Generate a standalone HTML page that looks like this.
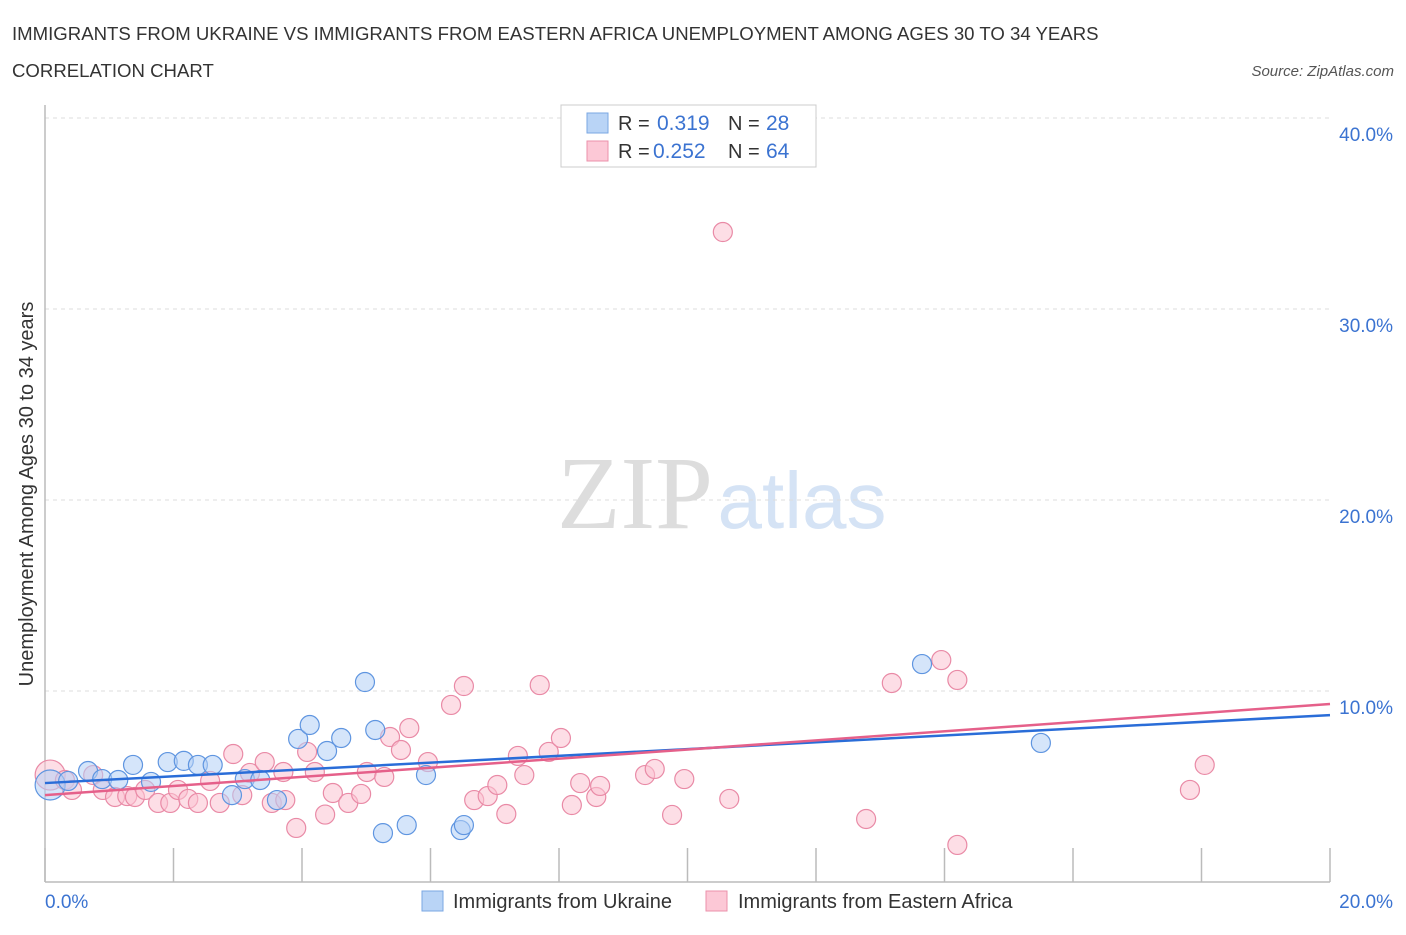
<!DOCTYPE html>
<html><head><meta charset="utf-8">
<style>
body{margin:0;background:#fff;font-family:"Liberation Sans",sans-serif;}
svg text{font-family:"Liberation Sans",sans-serif;}
</style></head>
<body>
<svg id="chart" width="1406" height="930" xmlns="http://www.w3.org/2000/svg">
<text x="12" y="40" font-size="18.6" fill="#333">IMMIGRANTS FROM UKRAINE VS IMMIGRANTS FROM EASTERN AFRICA UNEMPLOYMENT AMONG AGES 30 TO 34 YEARS</text>
<text x="12" y="77" font-size="18.6" fill="#333">CORRELATION CHART</text>
<text x="1394" y="76" font-size="15" fill="#555" font-style="italic" text-anchor="end">Source: ZipAtlas.com</text>
<text transform="translate(33,494) rotate(-90)" font-size="20" fill="#333" text-anchor="middle">Unemployment Among Ages 30 to 34 years</text>
<text x="635" y="528" font-size="104" fill="#ddd" text-anchor="middle" style="font-family:'Liberation Serif',serif">ZIP</text>
<text x="802" y="528" font-size="80" fill="#d5e3f5" text-anchor="middle">atlas</text>
<g id="grid"></g>
<g id="marks"></g>
<g id="lines"></g>
<g>
<rect x="561" y="105" width="255" height="62" fill="#fff" stroke="#ccc"/>
<rect x="587" y="113" width="21" height="20" fill="#b9d4f6" stroke="#7aa7e3"/>
<text x="618" y="130" font-size="20" fill="#333">R = </text><text x="657" y="130" font-size="21" fill="#3b73d1">0.319</text>
<text x="728" y="130" font-size="20" fill="#333">N = </text><text x="766" y="130" font-size="21" fill="#3b73d1">28</text>
<rect x="587" y="141" width="21" height="20" fill="#fcc8d6" stroke="#eb91ab"/>
<text x="618" y="158" font-size="20" fill="#333">R = </text><text x="653" y="158" font-size="21" fill="#3b73d1">0.252</text>
<text x="728" y="158" font-size="20" fill="#333">N = </text><text x="766" y="158" font-size="21" fill="#3b73d1">64</text>
</g>
<g>
<rect x="422" y="891" width="21" height="20" fill="#b9d4f6" stroke="#7aa7e3"/>
<text x="453" y="908" font-size="20" fill="#333">Immigrants from Ukraine</text>
<rect x="706" y="891" width="21" height="20" fill="#fcc8d6" stroke="#eb91ab"/>
<text x="738" y="908" font-size="20" fill="#333">Immigrants from Eastern Africa</text>
</g>
</svg>
<script>
const yTicks=[10,20,30,40];
const yTickLabels=["10.0%","20.0%","30.0%","40.0%"];
const xTickLabels=["0.0%","20.0%"];
const ukraineX=[0.08,0.36,0.67,0.89,1.14,1.37,1.65,1.91,2.16,2.38,2.61,2.91,3.11,3.35,3.61,3.94,4.12,4.39,4.61,4.98,5.14,5.26,5.63,5.93,6.47,6.52,13.65,15.5];
const ukraineY=[5.08,5.29,5.81,5.39,5.34,6.13,5.24,6.28,6.34,6.13,6.13,4.55,5.39,5.34,4.29,7.49,8.22,6.86,7.54,10.47,7.96,2.56,2.98,5.6,2.72,2.98,11.41,7.28];
const africaX=[0.08,0.31,0.42,0.75,0.9,1.09,1.28,1.4,1.56,1.76,1.95,2.07,2.23,2.38,2.57,2.72,2.93,3.07,3.19,3.42,3.53,3.74,3.91,4.08,4.2,4.36,4.48,4.72,4.92,5.01,5.28,5.37,5.54,5.67,5.96,6.32,6.52,6.68,6.89,7.04,7.18,7.36,7.46,7.7,7.84,8.03,8.2,8.33,8.58,8.64,9.34,9.49,9.76,9.95,10.55,10.65,12.78,13.18,13.95,14.2,14.2,17.82,18.05,3.71];
const africaY=[5.6,5.34,4.82,5.6,4.82,4.45,4.5,4.45,4.82,4.14,4.14,4.82,4.35,4.14,5.29,4.14,6.7,4.55,5.71,6.28,4.14,4.29,2.83,6.81,5.76,3.53,4.66,4.14,4.61,5.76,5.5,7.59,6.91,8.06,6.28,9.27,10.26,4.29,4.5,5.08,3.56,6.6,5.6,10.31,6.81,7.54,4.03,5.18,4.45,5.03,5.6,5.92,3.51,5.39,34.03,4.35,3.3,10.42,11.62,10.58,1.94,4.82,6.13,5.76];
const ukraineTrend=[5.18,8.74];
const africaTrend=[4.55,9.32];
const NS="http://www.w3.org/2000/svg";
const X0=45,X1=1330,Y0=882,PPU=19.1;
function sx(v){return X0+(v/20)*(X1-X0);}
function sy(v){return Y0-v*PPU;}
function mk(tag,attrs,parent){const e=document.createElementNS(NS,tag);for(const k in attrs)e.setAttribute(k,attrs[k]);parent.appendChild(e);return e;}
const grid=document.getElementById('grid'),marks=document.getElementById('marks'),lines=document.getElementById('lines');
yTicks.forEach((t,i)=>{
 const g=mk('line',{x1:X0,x2:X1,y1:sy(t),y2:sy(t),stroke:'#ddd','stroke-dasharray':'4,4'},grid);
 
 
 const tx=mk('text',{x:1393,y:sy(t)+23,'font-size':19,fill:'#3b73d1','text-anchor':'end'},grid);
 tx.textContent=yTickLabels[i];
 
 
});
const ax=mk('line',{x1:X0,x2:X0,y1:105,y2:Y0,stroke:'#bbb','stroke-width':1.5},grid);


const xa=mk('line',{x1:X0,x2:X1,y1:Y0,y2:Y0,stroke:'#bbb','stroke-width':1.5},grid);


for(let i=0;i<=10;i++){
 const tk=mk('line',{x1:sx(i*2),x2:sx(i*2),y1:Y0-34,y2:Y0,stroke:'#bbb','stroke-width':1.5},grid);
 
 
}
xTickLabels.forEach((l,i)=>{
 const tx=mk('text',{x:i==0?45:1393,y:908,'font-size':19,fill:'#3b73d1','text-anchor':i==0?'start':'end'},grid);
 tx.textContent=l;
 
 
});
function pts(xs,ys,fill,stroke,name){
 xs.forEach((x,i)=>{
  const r=i==0?15:9.5;
  const c=mk('circle',{cx:sx(x),cy:sy(ys[i]),r:r,fill:fill,'fill-opacity':0.55,stroke:stroke,'stroke-width':1.2},marks);
  
  
 });
}
pts(africaX,africaY,'#fbc2d2','#e98aa6','point-eastern-africa');
pts(ukraineX,ukraineY,'#b3d0f5','#5f95e0','point-ukraine');
const l1=mk('line',{x1:sx(0),y1:sy(ukraineTrend[0]),x2:sx(20),y2:sy(ukraineTrend[1]),stroke:'#2a6dd8','stroke-width':2.5},lines);


const l2=mk('line',{x1:sx(0),y1:sy(africaTrend[0]),x2:sx(20),y2:sy(africaTrend[1]),stroke:'#e5608a','stroke-width':2.5},lines);


</script>
</body></html>
